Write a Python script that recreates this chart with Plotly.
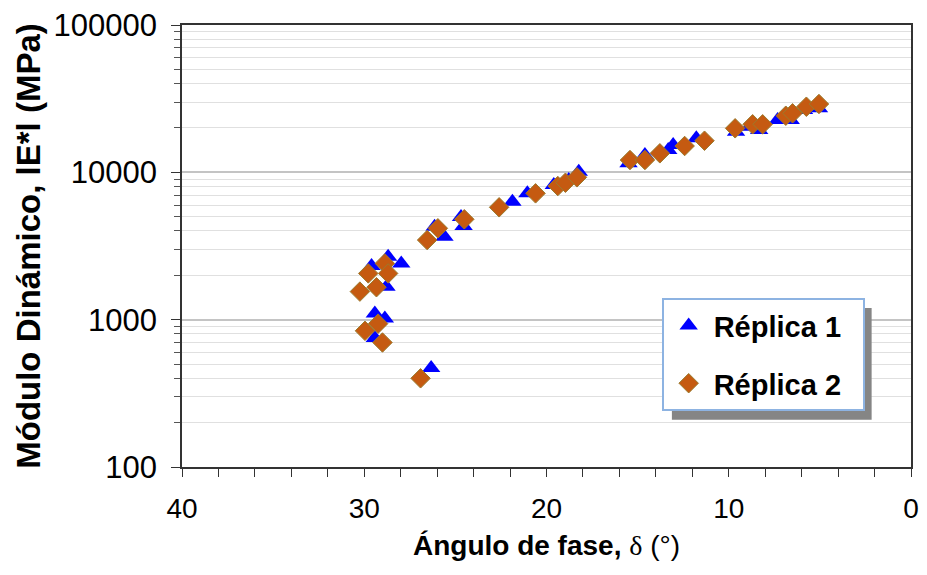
import plotly.graph_objects as go

# ---- data ----
rep1_delta = [29.60, 28.69, 27.97, 28.78, 29.42, 28.87, 29.42, 26.33,
              26.14, 25.60, 24.69, 24.55, 21.87, 21.05, 19.60, 18.78, 18.23,
              15.50, 14.60, 13.32, 13.05, 11.78,
              9.60, 8.87, 8.33, 7.32, 6.60, 5.87, 5.05]
rep1_mod = [2310, 2670, 2410, 1670, 1100, 1020, 750, 470,
            4270, 3650, 4980, 4320, 6320, 7200, 8200, 8870, 10100,
            11510, 13100, 14170, 15320, 17010,
            18860, 20400, 19370, 22650, 22650, 26480, 27200]

rep2_delta = [30.24, 29.78, 28.87, 28.69, 29.33, 29.96, 29.24, 29.00, 26.91,
              26.55, 25.96, 24.51, 22.60, 20.60, 19.38, 18.96, 18.33,
              15.42, 14.60, 13.78, 12.42, 11.33,
              9.65, 8.69, 8.14, 6.87, 6.50, 5.74, 5.05]
rep2_mod = [1550, 2060, 2410, 2060, 1660, 840, 940, 700, 400,
            3470, 4170, 4800, 5790, 7200, 8070, 8500, 9250,
            12120, 12120, 13460, 15090, 16390,
            19900, 21180, 21180, 24220, 25150, 27880, 29090]

series_names = ["Réplica 1", "Réplica 2"]

x_tickvals = [40, 30, 20, 10, 0]
x_ticktext = ["40", "30", "20", "10", "0"]
y_tickvals = [100, 1000, 10000, 100000]
y_ticktext = ["100", "1000", "10000", "100000"]

x_title = "<b>Ángulo de fase, </b><span style=\"font-family:'Liberation Serif'\">δ</span> (°)"
y_title = "<b>Módulo Dinámico, lE*l (MPa)</b>"

BLUE = "#0000FF"
ORANGE = "#C55A11"
FONT = "Liberation Sans"
PAD = "\u00a0\u00a0"  # legend text padding to widen the box

fig = go.Figure()
fig.add_trace(go.Scatter(
    x=rep1_delta, y=rep1_mod, mode="markers", name=series_names[0] + PAD,
    legendgroup="a",
    marker=dict(symbol="triangle-up", size=16, color=BLUE,
                line=dict(width=0)),
))
fig.add_trace(go.Scatter(
    x=rep2_delta, y=rep2_mod, mode="markers", name=series_names[1] + PAD,
    legendgroup="b",
    marker=dict(symbol="diamond", size=15, color=ORANGE,
                line=dict(width=1, color="#9a7b2e")),
))

# legend shadow (decoration)
fig.add_shape(type="rect", xref="paper", yref="paper",
              x0=0.672, x1=0.946, y0=0.107, y1=0.36,
              fillcolor="#858585", line=dict(width=0), layer="above")

fig.update_layout(
    width=927, height=575,
    margin=dict(l=182, r=8, t=25, b=108),
    paper_bgcolor="white", plot_bgcolor="white",
    font=dict(family=FONT, color="#000000"),
    showlegend=True,
    legend=dict(
        x=0.658, y=0.382, xanchor="left", yanchor="top",
        bgcolor="white", bordercolor="#8db3e2", borderwidth=2,
        font=dict(family=FONT, size=29, color="#000000", weight="bold"),
        tracegroupgap=17, itemwidth=40,
    ),
    xaxis=dict(
        range=[40, 0], tickvals=x_tickvals, ticktext=x_ticktext,
        ticks="outside", ticklen=8, tickcolor="#333333",
        minor=dict(dtick=2, ticks="outside", ticklen=8, tickcolor="#333333", showgrid=False),
        showgrid=False, zeroline=False,
        showline=True, linecolor="#333333", linewidth=1.5, mirror=True,
        tickfont=dict(family=FONT, size=28),
        ticklabelstandoff=8,
        title=dict(text=x_title, font=dict(family=FONT, size=28), standoff=12),
    ),
    yaxis=dict(
        type="log", range=[2, 5], tickvals=y_tickvals, ticktext=y_ticktext,
        ticks="outside", ticklen=9, tickcolor="#333333",
        minor=dict(dtick="D1", ticks="outside", ticklen=6, tickcolor="#555555",
                   showgrid=True, gridcolor="#e0e0e0", gridwidth=1),
        showgrid=True, gridcolor="#c4c4c4", gridwidth=1.5,
        zeroline=False,
        showline=True, linecolor="#333333", linewidth=1.5, mirror=True,
        tickfont=dict(family=FONT, size=31),
        ticklabelstandoff=8,
        title=dict(text=y_title, font=dict(family=FONT, size=33), standoff=3),
    ),
)

fig.write_html("out.html")
